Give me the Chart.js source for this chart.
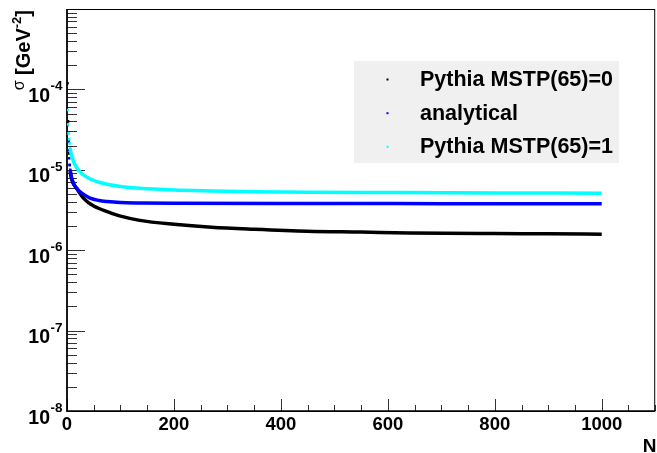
<!DOCTYPE html>
<html>
<head>
<meta charset="utf-8">
<script src="https://cdn.jsdelivr.net/npm/chart.js@4/dist/chart.umd.min.js"></script>
<style>
  html, body { margin: 0; padding: 0; background: #fff; }
  canvas { display: block; }
</style>
</head>
<body>
<canvas id="c" width="657" height="453"></canvas>
<script>
// Cross section sigma versus N for three calculations.
const seriesNames = ['Pythia MSTP(65)=0', 'analytical', 'Pythia MSTP(65)=1'];
const seriesColors = ['#000000', '#0000ff', '#00ffff'];

const nPythia0 = [1, 2, 3, 4, 5, 6, 8, 10, 14, 18, 24, 30, 40, 50, 60, 70, 85, 100, 136, 200, 270, 350, 450, 550, 640, 800, 900, 1000];
const sigmaPythia0 = [1.19e-4, 4.0e-5, 2.3e-5, 1.6e-5, 1.15e-5, 9.6e-6, 8.0e-6, 7.2e-6, 6.4e-6, 5.9e-6, 5.1e-6, 4.5e-6, 3.9e-6, 3.55e-6, 3.3e-6, 3.1e-6, 2.85e-6, 2.65e-6, 2.35e-6, 2.1e-6, 1.93e-6, 1.82e-6, 1.72e-6, 1.68e-6, 1.64e-6, 1.61e-6, 1.60e-6, 1.58e-6];

const nAnalytical = [1, 2, 3, 4, 5, 6, 8, 10, 13, 16, 20, 24, 30, 43, 60, 75, 100, 136, 200, 400, 600, 800, 1000];
const sigmaAnalytical = [3.6e-5, 2.23e-5, 1.75e-5, 1.39e-5, 1.15e-5, 1.0e-5, 8.3e-6, 7.4e-6, 6.6e-6, 6.1e-6, 5.7e-6, 5.35e-6, 5.0e-6, 4.45e-6, 4.15e-6, 4.03e-6, 3.92e-6, 3.87e-6, 3.83e-6, 3.8e-6, 3.8e-6, 3.79e-6, 3.79e-6];

const nPythia1 = [1, 2, 3, 4, 5, 6, 7, 8, 10, 12, 15, 20, 24, 30, 43, 60, 75, 100, 136, 200, 270, 350, 450, 620, 800, 1000];
const sigmaPythia1 = [5.53e-5, 3.67e-5, 2.84e-5, 2.39e-5, 2.13e-5, 1.85e-5, 1.68e-5, 1.57e-5, 1.40e-5, 1.28e-5, 1.15e-5, 1.02e-5, 9.5e-6, 8.7e-6, 7.7e-6, 7.0e-6, 6.6e-6, 6.2e-6, 5.88e-6, 5.6e-6, 5.45e-6, 5.32e-6, 5.25e-6, 5.22e-6, 5.16e-6, 5.12e-6];

const xTickLabels = [0, 200, 400, 600, 800, 1000];
const xMinorStep = 50;
const xRange = [0, 1100];
const yDecades = [-8, -7, -6, -5, -4];
const yRange = [1e-8, 1e-3];

const FONT = '"Liberation Sans", Arial, Helvetica, sans-serif';
const DOT_LIMIT = 7;   // the lowest N values appear as separate dots

function makeSeries(i, xs, ys, order) {
  return {
    label: seriesNames[i],
    data: xs.map((x, k) => ({ x: x, y: ys[k] })),
    borderColor: seriesColors[i],
    backgroundColor: seriesColors[i],
    borderWidth: 3.5,
    pointStyle: 'rect',
    pointBorderWidth: 0,
    pointRadius: ctx => (ctx.raw && ctx.raw.x <= DOT_LIMIT) ? 1.8 : 0,
    pointHoverRadius: 0,
    cubicInterpolationMode: 'monotone',
    fill: false,
    order: order,
    segment: {
      borderColor: ctx => ctx.p1.parsed.x <= DOT_LIMIT - 1 ? 'rgba(0,0,0,0)' : undefined
    }
  };
}

// Frame, inward tick marks, labels, titles and legend in the ROOT style.
const rootStyle = {
  id: 'rootStyle',
  beforeDatasetsDraw(chart) {
    const { ctx, chartArea: a, scales: { x, y } } = chart;
    ctx.save();
    ctx.strokeStyle = '#000';
    ctx.lineWidth = 1;
    ctx.strokeRect(a.left, a.top + 0.5, a.right - a.left - 0.5, a.bottom - a.top);

    // y ticks (log): majors at powers of ten, minors at 2..9
    ctx.lineWidth = 1;
    ctx.strokeStyle = 'rgba(0,0,0,0.8)';
    const decs = yDecades.concat([yDecades[yDecades.length - 1] + 1]);
    decs.forEach(d => {
      for (let m = 1; m <= 9; m++) {
        const v = m * Math.pow(10, d);
        if (v > yRange[1] * 1.0001) break;
        const py = Math.round(y.getPixelForValue(v)) + 0.5;
        const len = m === 1 ? 18 : 10;
        ctx.beginPath();
        ctx.moveTo(a.left, py);
        ctx.lineTo(a.left + len, py);
        ctx.stroke();
      }
    });

    // x ticks: minors every 50, majors at labelled values
    for (let v = xRange[0]; v <= xRange[1]; v += xMinorStep) {
      const px = Math.round(x.getPixelForValue(v)) + 0.5;
      const len = xTickLabels.includes(v) ? 12 : 6;
      ctx.beginPath();
      ctx.moveTo(px, a.bottom);
      ctx.lineTo(px, a.bottom - len);
      ctx.stroke();
    }

    // axis lines
    ctx.strokeStyle = '#000';
    ctx.lineWidth = 1.6;
    ctx.beginPath();
    ctx.moveTo(a.left, a.top);
    ctx.lineTo(a.left, a.bottom);
    ctx.lineTo(a.right, a.bottom);
    ctx.stroke();
    ctx.restore();
  },
  afterDraw(chart) {
    const { ctx, chartArea: a, scales: { x, y } } = chart;
    ctx.save();
    ctx.fillStyle = '#000';

    // x tick labels
    ctx.font = 'bold 18.5px ' + FONT;
    ctx.textAlign = 'center';
    ctx.textBaseline = 'alphabetic';
    xTickLabels.forEach(v => {
      ctx.fillText(String(v), x.getPixelForValue(v), 430);
    });

    // y tick labels 10^d
    yDecades.forEach(d => {
      const py = y.getPixelForValue(Math.pow(10, d));
      ctx.font = 'bold 19.5px ' + FONT;
      ctx.textAlign = 'right';
      ctx.fillText('10', 50, py + 12.5);
      ctx.font = 'bold 13.5px ' + FONT;
      ctx.textAlign = 'left';
      ctx.fillText(String(d), 50.5, py + 1);
    });

    // x axis title
    ctx.font = 'bold 19px ' + FONT;
    ctx.textAlign = 'right';
    ctx.fillText('N', 656.5, 452);

    // y axis title, rotated, ending at the top of the frame
    const parts = [
      { t: '\u03c3', f: '16px ' + FONT, dy: -6 },
      { t: ' [GeV', f: 'bold 20px ' + FONT, dy: 0 },
      { t: '-2', f: 'bold 13px ' + FONT, dy: -9 },
      { t: ']', f: 'bold 20px ' + FONT, dy: 0 }
    ];
    let total = 0;
    parts.forEach(p => { ctx.font = p.f; p.w = ctx.measureText(p.t).width; total += p.w; });
    ctx.translate(30, a.top + total + 1);
    ctx.rotate(-Math.PI / 2);
    ctx.textAlign = 'left';
    let cx = 0;
    parts.forEach(p => { ctx.font = p.f; ctx.fillText(p.t, cx, p.dy); cx += p.w; });
    ctx.setTransform(1, 0, 0, 1, 0, 0);

    // legend box
    ctx.fillStyle = '#f0f0f0';
    ctx.fillRect(354, 61, 265, 102);
    ctx.font = 'bold 21.5px ' + FONT;
    ctx.textAlign = 'left';
    const rows = [86, 119.7, 153.3];
    seriesNames.forEach((name, i) => {
      ctx.fillStyle = seriesColors[i];
      ctx.fillRect(386.5, rows[i] - 7.5, 2, 2);
      ctx.fillStyle = '#000';
      ctx.fillText(name, 420, rows[i]);
    });
    ctx.restore();
  }
};

new Chart(document.getElementById('c'), {
  type: 'line',
  data: {
    datasets: [
      makeSeries(0, nPythia0, sigmaPythia0, 3),
      makeSeries(1, nAnalytical, sigmaAnalytical, 2),
      makeSeries(2, nPythia1, sigmaPythia1, 1)
    ]
  },
  options: {
    responsive: false,
    animation: false,
    devicePixelRatio: 1,
    layout: { padding: { left: 67, right: 1, top: 9, bottom: 42 } },
    plugins: { legend: { display: false }, tooltip: { enabled: false } },
    scales: {
      x: { type: 'linear', min: xRange[0], max: xRange[1], display: false },
      y: { type: 'logarithmic', min: yRange[0], max: yRange[1], display: false }
    }
  },
  plugins: [rootStyle]
});
</script>
</body>
</html>
